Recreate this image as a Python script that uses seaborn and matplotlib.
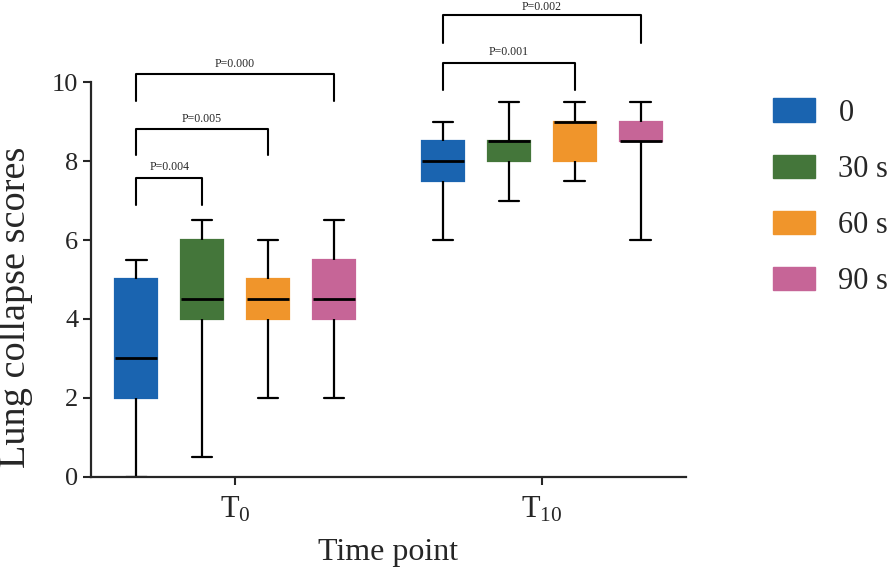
import pandas as pd
import matplotlib
matplotlib.use('Agg')
import matplotlib.pyplot as plt
from matplotlib.patches import Patch
import seaborn as sns

# box stats: min, q1, median, q3, max
groups = ['0', '30 s', '60 s', '90 s']
times = ['T0', 'T10']
t0_stats = {
    '0':    [0.0, 2.0, 3.0, 5.0, 5.5],
    '30 s': [0.5, 4.0, 4.5, 6.0, 6.5],
    '60 s': [2.0, 4.0, 4.5, 5.0, 6.0],
    '90 s': [2.0, 4.0, 4.5, 5.5, 6.5],
}
t10_stats = {
    '0':    [6.0, 7.5, 8.0, 8.5, 9.0],
    '30 s': [7.0, 8.0, 8.5, 8.5, 9.5],
    '60 s': [7.5, 8.0, 9.0, 9.0, 9.5],
    '90 s': [6.0, 8.5, 8.5, 9.0, 9.5],
}
colors = ['#1a64b0', '#44763a', '#f0952b', '#c66597']
tick_labels = [r'T$_\mathregular{0}$', r'T$_\mathregular{10}$']

# significance brackets: time index, group a, group b, top, leg end, text y, label
brackets = [
    (0, 0, 1, 7.58, 6.88, 7.85, 'P=0.004'),
    (0, 0, 2, 8.82, 8.15, 9.08, 'P=0.005'),
    (0, 0, 3, 10.2, 9.52, 10.47, 'P=0.000'),
    (1, 0, 2, 10.48, 9.8, 10.76, 'P=0.001'),
    (1, 0, 3, 11.7, 11.0, 11.9, 'P=0.002'),
]

rows = []
for t, stats in zip(times, [t0_stats, t10_stats]):
    for g in groups:
        for v in stats[g]:
            rows.append({'time': t, 'group': g, 'score': v})
df = pd.DataFrame(rows)

sns.set_style('ticks')
plt.rcParams['font.family'] = ['Liberation Serif', 'DejaVu Serif']
plt.rcParams['mathtext.fontset'] = 'custom'
plt.rcParams['mathtext.rm'] = 'Liberation Serif'
plt.rcParams['mathtext.it'] = 'Liberation Serif:italic'

fig = plt.figure(figsize=(8.91, 5.75), dpi=100)
ax = fig.add_axes([0.102, 0.171, 0.668, 0.686])

width = 0.86
gap = 0.37
sns.boxplot(data=df, x='time', y='score', hue='group', order=times,
            hue_order=groups, palette=colors, saturation=1, width=width,
            gap=gap, whis=(0, 100), linecolor='black', linewidth=1.6,
            medianprops={'linewidth': 2.0}, showfliers=False, legend=False,
            ax=ax)
for p in ax.patches:
    p.set_edgecolor(p.get_facecolor())

ax.set_ylim(0, 10)
ax.set_xlim(-0.47, 1.47)
ax.set_yticks([0, 2, 4, 6, 8, 10])
ax.set_xticks([0, 1])
ax.set_xticklabels(tick_labels, fontsize=22)
ax.tick_params(axis='y', labelsize=19, width=1.5, length=6, pad=3)
ax.tick_params(axis='x', width=1.5, length=6, pad=7)
for s in ['left', 'bottom']:
    ax.spines[s].set_linewidth(1.6)
sns.despine(ax=ax)

ax.set_ylabel('Lung collapse scores', fontsize=27.5)
ax.yaxis.set_label_coords(-0.097, 0.43)
ax.set_xlabel('Time point', fontsize=23, labelpad=10)

slot = width / len(groups)
for ti, ga, gb, top, leg, ty, label in brackets:
    x1 = ti + (ga - 1.5) * slot
    x2 = ti + (gb - 1.5) * slot
    ax.plot([x1, x1, x2, x2], [leg, top, top, leg], color='black',
            linewidth=1.5, clip_on=False)
    ax.text((x1 + x2) / 2, ty, label, ha='center', va='center',
            fontsize=8.5, clip_on=False)

handles = [Patch(facecolor=c, edgecolor=c) for c in colors]
fig.legend(handles, groups, loc='upper left', bbox_to_anchor=(0.8535, 0.85),
           frameon=False, fontsize=22, handlelength=1.4, handleheight=0.8,
           handletextpad=0.75, labelspacing=0.88, borderaxespad=0)

fig.savefig('out.png', dpi=100)
